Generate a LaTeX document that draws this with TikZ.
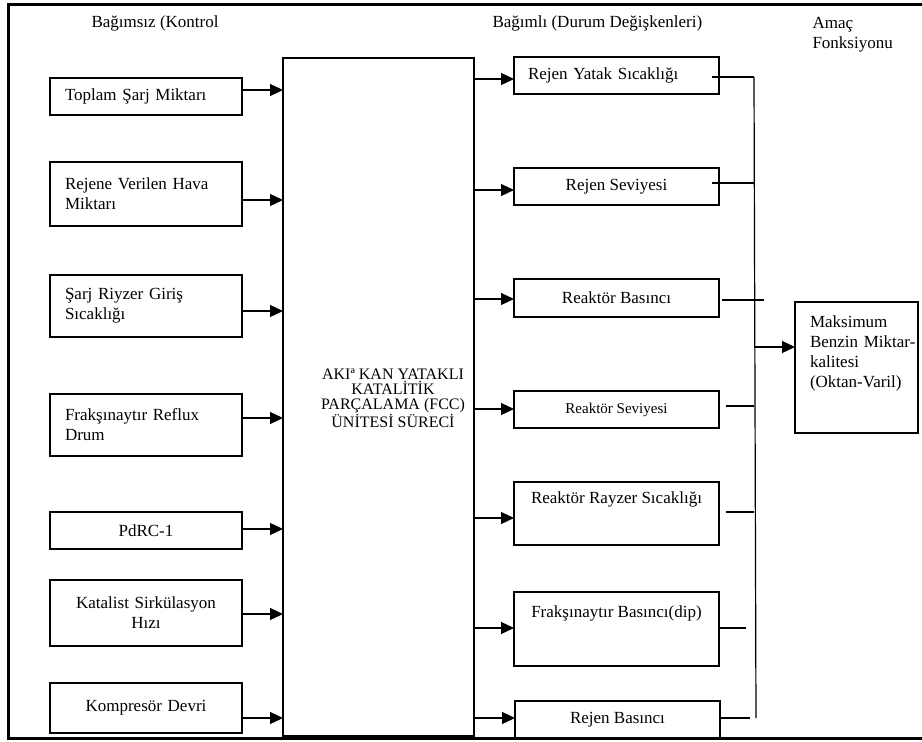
\documentclass[tikz,border=0pt]{standalone}
\usepackage{fontspec}
\setmainfont{Liberation Serif}
\usetikzlibrary{arrows.meta}
\usetikzlibrary{calc}

\begin{document}
\begin{tikzpicture}[
    x=1pt, y=-1pt,
    font={\fontsize{17pt}{20pt}\selectfont},
% box styles
    kutu/.style={rectangle,draw,line width=1.2pt,anchor=north west,inner ysep=2pt,outer sep=0pt},
    girdi/.style={kutu,minimum width=192pt,text width=162pt,inner xsep=15pt,align=left},
    girdi2/.style={kutu,minimum width=192pt,text width=180pt,inner xsep=6pt,align=center},
    cikti/.style={kutu,minimum width=205pt,align=center},
% connectors
    ok/.style={line width=1.2pt,-{Triangle[length=13pt,width=12pt]}},
    hat/.style={line width=1.2pt}
    ]

  \useasboundingbox (0,0) rectangle (922,742);
  \draw[line width=3pt] (922,4) -- (8,4) -- (8,738) -- (922,738);

  % headings
  \node (bagimsiz) at (88,23) [anchor=west] {Bağımsız (Kontrol};
  \node (bagimli) at (489,23) [anchor=west] {Bağımlı (Durum Değişkenleri)};
  \node (amac) at (809,35) [anchor=west,align=left] {Amaç\\Fonksiyonu};

  % process
  \node (fcc) at (283,58) [kutu,minimum width=191pt,minimum height=678pt] {};
  \node (fccyazi) at (393,398) [align=center,font={\fontsize{16pt}{15pt}\selectfont}]
    {AKIª KAN YATAKLI\\KATALİTİK\\PARÇALAMA (FCC)\\ÜNİTESİ SÜRECİ};

  % inputs
  \node (g1) at (50,78) [girdi,minimum height=37pt] {Toplam Şarj Miktarı};
  \node (g2) at (50,162) [girdi,minimum height=64pt] {Rejene Verilen Hava\\Miktarı};
  \node (g3) at (50,275) [girdi,minimum height=62pt] {Şarj Riyzer Giriş\\Sıcaklığı};
  \node (g4) at (50,394) [girdi,minimum height=62pt] {Frakşınaytır Reflux\\Drum};
  \node (g5) at (50,512) [girdi2,minimum height=37pt] {PdRC-1};
  \node (g6) at (50,580) [girdi2,minimum height=66pt] {Katalist Sirkülasyon\\Hızı};
  \node (g7) at (50,683) [girdi2,minimum height=50pt] {Kompresör Devri};

  % outputs
  \node (r1) at (514,57) [cikti,minimum height=37pt,text width=177pt,inner xsep=14pt,align=left] {Rejen Yatak Sıcaklığı};
  \node (r2) at (514,168) [cikti,minimum height=37pt] {Rejen Seviyesi};
  \node (r3) at (514,279) [cikti,minimum height=38pt] {Reaktör Basıncı};
  \node (r4) at (514,391) [cikti,minimum height=37pt,font={\fontsize{15pt}{18pt}\selectfont}] {Reaktör Seviyesi};
  \node (r5) at (514,482) [cikti,inner ysep=9pt,text height=12pt,text depth=33pt] {Reaktör Rayzer Sıcaklığı};
  \node (r6) at (514,592) [cikti,inner ysep=13pt,text height=12pt,text depth=36pt] {Frakşınaytır Basıncı(dip)};
  \node (r7) at (515,701) [cikti,minimum height=37pt] {Rejen Basıncı};

  % objective
  \node (mk) at (795,302) [kutu,text width=93pt,inner xsep=15pt,align=left,
    inner ysep=13pt,text height=12pt,text depth=93pt]
    {Maksimum\\\mbox{Benzin Miktar-}\\kalitesi\\(Oktan-Varil)};

  \foreach \b/\y in {g1/90, g2/200, g3/311, g4/418, g5/529, g6/614, g7/718}
    \draw[ok] (\b.east |- 0,\y) -- (fcc.west |- 0,\y);

  \foreach \b/\y in {r1/79, r2/190, r3/299, r4/409, r5/518, r6/628, r7/718}
    \draw[ok] (fcc.east |- 0,\y) -- (\b.west |- 0,\y);

  \coordinate (ust) at (754,77);
  \coordinate (alt) at (756,718);
  \draw[hat] (ust) -- (alt);

  \foreach \b/\y/\dx/\ex in {r1/77/-7/0, r2/183/-7/0, r3/300/3/10, r4/406/7/0, r5/512/7/0, r6/628/0/-8, r7/718/1/-4}
    \draw[hat] ($(\b.east |- 0,\y)+(\dx,0)$) -- ($(ust |- 0,\y)+(\ex,0)$);

  \draw[ok] (ust |- 0,347) -- (mk.west |- 0,347);

\end{tikzpicture}
\end{document}
